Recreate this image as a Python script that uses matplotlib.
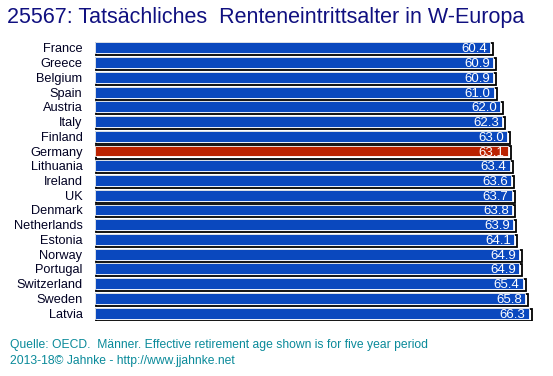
import matplotlib.pyplot as plt
from matplotlib.patches import Rectangle

countries = ['France', 'Greece', 'Belgium', 'Spain', 'Austria', 'Italy', 'Finland',
             'Germany', 'Lithuania', 'Ireland', 'UK', 'Denmark', 'Netherlands',
             'Estonia', 'Norway', 'Portugal', 'Switzerland', 'Sweden', 'Latvia']
ages = [60.4, 60.9, 60.9, 61.0, 62.0, 62.3, 63.0, 63.1, 63.4, 63.6, 63.7,
        63.8, 63.9, 64.1, 64.9, 64.9, 65.4, 65.8, 66.3]
highlight = 'Germany'

plt.rcParams['font.family'] = ['Liberation Sans', 'DejaVu Sans']

fig = plt.figure(figsize=(5.53, 3.76), dpi=100)
ax = fig.add_axes([95 / 553, 1 - 320.5 / 376, 458 / 553, (320.5 - 40.5) / 376])
ax.set_xlim(0, 458 / 6.54)
ax.set_ylim(len(countries) - 0.5, -0.5)

h = 0.74
for i, (c, v) in enumerate(zip(countries, ages)):
    col = '#bb2200' if c == highlight else '#0a48be'
    # schwarzer rahmen / schatten
    ax.add_patch(Rectangle((0.1, i - h / 2 + 0.06), v + 0.35, h + 0.08, facecolor='none',
                           edgecolor='black', lw=1.3, zorder=1))
    ax.barh(i, v, height=h, color=col, edgecolor='white', lw=0.6, zorder=2)
    ax.text(v - 0.5, i + 0.1, '%.1f' % v, color='white', fontsize=9.5,
            ha='right', va='center', zorder=3)

ax.set_yticks(range(len(countries)))
ax.set_yticklabels(countries, fontsize=9.2, color='#000022')
ax.tick_params(axis='y', length=0, pad=9)
ax.set_xticks([])
for s in ax.spines.values():
    s.set_visible(False)

fig.text(7 / 553, 1 - 17 / 376, '25567: Tatsächliches  Renteneintrittsalter in W-Europa',
         fontsize=15.5, color='#101080', va='center', ha='left')
fig.text(10 / 553, 1 - 345 / 376,
         'Quelle: OECD.  Männer. Effective retirement age shown is for five year period',
         fontsize=8.7, color='#0a8a9a', va='center', ha='left')
fig.text(10 / 553, 1 - 361 / 376, '2013-18© Jahnke - http://www.jjahnke.net',
         fontsize=8.7, color='#0a8a9a', va='center', ha='left')

fig.savefig('out.png', dpi=100)
